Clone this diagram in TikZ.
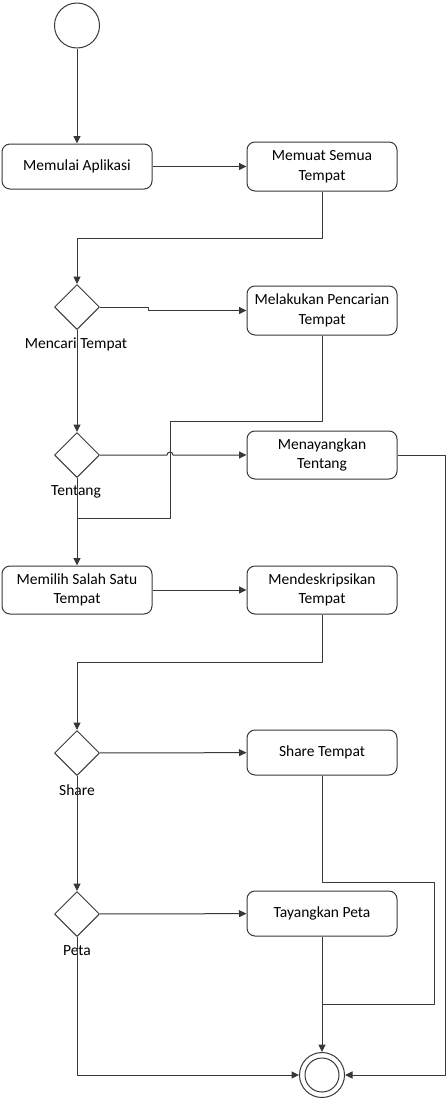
\documentclass[tikz,border=0pt]{standalone}
\usepackage{fontspec}
\setmainfont{Carlito}
\usepackage[x11names, rgb]{xcolor}
\usepackage{tikz}
\usetikzlibrary{arrows.meta,shapes}

\definecolor{linecol}{rgb}{0.22,0.22,0.22}
\tikzset{
  act/.style={draw=linecol, rounded corners=8bp, minimum width=150bp, minimum height=47bp,
    align=center, inner sep=0bp, font=\fontsize{15.5bp}{19.5bp}\selectfont},
  decision/.style={draw=linecol, diamond, minimum width=45bp, minimum height=45bp, inner sep=0bp},
  guard/.style={font=\fontsize{15.5bp}{19.5bp}\selectfont, inner sep=0bp},
  flow/.style={->, draw=linecol},
}

\begin{document}
\begin{tikzpicture}[>={Triangle[length=7.5bp,width=7bp]},line join=bevel,]
  \pgfsetlinewidth{1bp}
  \useasboundingbox (0bp,0bp) rectangle (447bp,-1101bp);
%%
  % Node: start
  \node[draw=linecol, circle, minimum size=45bp, inner sep=0bp] (start) at (77bp,-25.5bp) {};
  % Node: memulai
  \node[act, minimum height=45bp] (memulai) at (77bp,-166.5bp) {Memulai Aplikasi};
  \node[act, minimum height=49bp] (memuat) at (322bp,-166.5bp) {Memuat Semua\\Tempat};
  % Node: mencari
  \node[decision] (mencari) at (77bp,-307bp) {};
  \node[guard] (mencarilbl) at (76bp,-344bp) {Mencari Tempat};
  \node[act, minimum height=49bp] (melakukan) at (322bp,-310.5bp) {Melakukan Pencarian\\Tempat};
  % Node: tentang
  \node[decision] (tentang) at (77bp,-455bp) {};
  \node[guard] (tentanglbl) at (76bp,-492bp) {Tentang};
  \node[act, minimum height=48bp] (menayangkan) at (322bp,-455bp) {Menayangkan\\Tentang};
  % Node: memilih
  \node[act, minimum height=48bp] (memilih) at (77bp,-590bp) {Memilih Salah Satu\\Tempat};
  \node[act, minimum height=48bp] (mendeskripsikan) at (322bp,-590bp) {Mendeskripsikan\\Tempat};
  % Node: share
  \node[decision] (share) at (77bp,-753bp) {};
  \node[guard] (sharelbl) at (77bp,-790bp) {Share};
  \node[act, minimum height=45bp] (sharetempat) at (322bp,-752.5bp) {Share Tempat};
  % Node: peta
  \node[decision] (peta) at (77bp,-914bp) {};
  \node[guard] (petalbl) at (77bp,-951bp) {Peta};
  \node[act, minimum height=45bp] (tayangkan) at (322bp,-913.5bp) {Tayangkan Peta};
  % Node: final
  \node[draw=linecol, circle, minimum size=45bp, inner sep=0bp] (final) at (322bp,-1075bp) {};
  \node[draw=linecol, circle, minimum size=34bp, inner sep=0bp] (finalin) at (final) {};
%
  \coordinate (j1) at (170bp,-421bp);
  \coordinate (j2) at (170bp,-518bp);
  \coordinate (s1) at (434bp,-882bp);
  \coordinate (s2) at (434bp,-1004bp);
  % Edge: start -> memulai
  \draw[flow] (start) -- (memulai);
  \draw[flow] (memulai) -- (memuat);
  % Edge: memuat -> mencari
  \draw[flow] (memuat.south) -- ++(0bp,-47bp) -| (mencari.north);
  \draw[flow] (mencari.east) -- ++(48bp,0bp) |- (melakukan.west);
  \draw[flow] (mencari.south) -- (tentang.north);
  % Edge: melakukan -> memilih
  \draw[draw=linecol] (melakukan.south) |- (j1) -- (j2) -- (j2 -| tentang.south);
  % Edge: tentang -> menayangkan
  \draw[flow] (tentang.east) -- ([xshift=-3bp]j1 |- tentang.east)
    arc[start angle=180, end angle=0, radius=3bp] -- (menayangkan.west);
  \draw[flow] (menayangkan.east) -- ++(48bp,0bp) |- (final.east);
  \draw[flow] (tentang.south) -- (memilih.north);
  % Edge: memilih -> mendeskripsikan
  \draw[flow] (memilih) -- (mendeskripsikan);
  \draw[flow] (mendeskripsikan.south) -- ++(0bp,-48bp) -| (share.north);
  % Edge: share -> sharetempat
  \draw[flow] (share) -- (sharetempat);
  \draw[flow] (share.south) -- (peta.north);
  % Edge: peta -> tayangkan
  \draw[flow] (peta) -- (tayangkan);
  \draw[draw=linecol] (sharetempat.south) |- (s1) -- (s2) -- (s2 -| tayangkan.south);
  \draw[flow] (tayangkan.south) -- (final.north);
  \draw[flow] (peta.south) |- (final.west);
%
\end{tikzpicture}
\end{document}
